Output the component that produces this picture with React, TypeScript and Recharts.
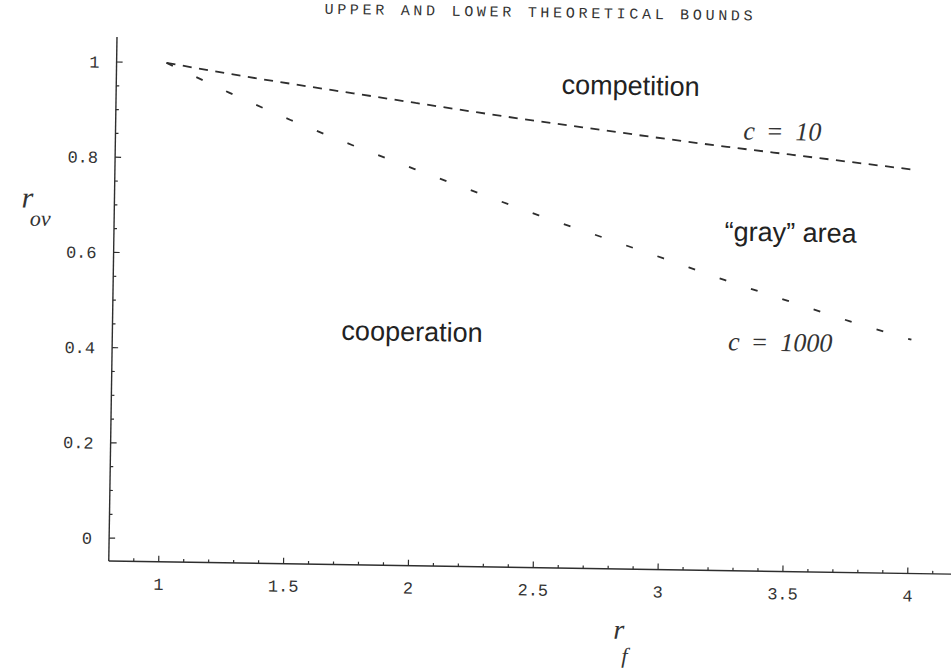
import React from 'react';
import { LineChart, Line, XAxis, YAxis, ReferenceDot } from 'recharts';

// r_f sample points and the two bound curves
const rf = [1, 1.25, 1.5, 1.75, 2, 2.25, 2.5, 2.75, 3, 3.25, 3.5, 3.75, 4];
const boundC10 = [1.0, 0.979, 0.96, 0.942, 0.924, 0.906, 0.889, 0.873, 0.857, 0.842, 0.828, 0.814, 0.8];
const boundC1000 = [1.0, 0.94, 0.884, 0.833, 0.785, 0.738, 0.692, 0.649, 0.606, 0.562, 0.521, 0.48, 0.443];

// axis ticks (minor + labelled majors)
const xTicks = [0.9, 1, 1.1, 1.2, 1.3, 1.4, 1.5, 1.6, 1.7, 1.8, 1.9, 2, 2.1, 2.2, 2.3, 2.4, 2.5, 2.6, 2.7, 2.8, 2.9, 3, 3.1, 3.2, 3.3, 3.4, 3.5, 3.6, 3.7, 3.8, 3.9, 4, 4.1, 4.2];
const xLabels = [1, 1.5, 2, 2.5, 3, 3.5, 4];
const yTicks = [0, 0.05, 0.1, 0.15, 0.2, 0.25, 0.3, 0.35, 0.4, 0.45, 0.5, 0.55, 0.6, 0.65, 0.7, 0.75, 0.8, 0.85, 0.9, 0.95, 1];
const yLabels = [0, 0.2, 0.4, 0.6, 0.8, 1];

const regionNames = ['competition', '\u201cgray\u201d area', 'cooperation'];
const regionAt = [
  { x: 2.86, y: 0.965 },
  { x: 3.51, y: 0.662 },
  { x: 2.0, y: 0.441 },
];
const curveValues = ['10', '1000'];
const curveAt = [
  { x: 3.47, y: 0.876 },
  { x: 3.475, y: 0.433 },
];

const data = rf.map((v, i) => ({ rf: v, c10: boundC10[i], c1000: boundC1000[i] }));

const ink = '#2e2e2e';
const mono = '"Liberation Mono", "DejaVu Sans Mono", monospace';
const serif = '"Liberation Serif", "DejaVu Serif", serif';
const sans = '"Liberation Sans", Arial, sans-serif';

const has = (list: number[], v: number) => list.some((l) => Math.abs(l - v) < 1e-6);

const BottomTick = (props: any) => {
  const { x, y, payload } = props;
  const major = has(xLabels, payload.value);
  return (
    <g>
      <line x1={x} x2={x} y1={y} y2={y - (major ? 6 : 3)} stroke={ink} strokeWidth={1.2} />
      {major && (
        <text x={x} y={y + 28} textAnchor="middle" fontFamily={mono} fontSize={17} fill="#333">
          {String(payload.value)}
        </text>
      )}
    </g>
  );
};

const TopTick = (props: any) => {
  const { x, y, payload } = props;
  const major = has(xLabels, payload.value);
  return <line x1={x} x2={x} y1={y} y2={y + (major ? 6 : 3)} stroke={ink} strokeWidth={1.2} />;
};

const LeftTick = (props: any) => {
  const { x, y, payload } = props;
  const major = has(yLabels, payload.value);
  return (
    <g>
      <line x1={x} x2={x + (major ? 6 : 3)} y1={y} y2={y} stroke={ink} strokeWidth={1.2} />
      {major && (
        <text x={x - 17} y={y + 6} textAnchor="end" fontFamily={mono} fontSize={17} fill="#333">
          {String(payload.value)}
        </text>
      )}
    </g>
  );
};

const RegionText = (text: string) => (p: any) => (
  <text x={p.cx} y={p.cy} dy="0.3em" textAnchor="middle" fontFamily={sans} fontSize={27} fill="#222">
    {text}
  </text>
);

const CurveText = (value: string) => (p: any) => (
  <text x={p.cx} y={p.cy} dy="0.33em" textAnchor="middle" fontFamily={serif} fontStyle="italic" fontSize={26} fill="#333">
    <tspan>c</tspan>
    <tspan dx={11}>=</tspan>
    <tspan dx={12}>{value}</tspan>
  </text>
);

export default function App() {
  return (
    <div style={{ position: 'absolute', left: 0, top: 0, width: 951, height: 668, overflow: 'hidden', background: '#fff' }}>
      <div
        style={{
          position: 'absolute',
          left: 0,
          top: 0,
          width: 1000,
          height: 668,
          transform: 'rotate(0.9deg)',
          transformOrigin: '117px 37px',
        }}
      >
        <LineChart width={1000} height={668} data={data} margin={{ top: 37, right: 23, bottom: 47, left: 57 }}>
          <XAxis
            type="number"
            dataKey="rf"
            domain={[0.8, 4.244]}
            allowDataOverflow
            ticks={xTicks}
            interval={0}
            tickLine={false}
            tickSize={0}
            tickMargin={0}
            height={60}
            axisLine={{ stroke: ink, strokeWidth: 1.4 }}
            tick={(p: any) => <BottomTick {...p} />}
          />
          <XAxis
            xAxisId="top"
            orientation="top"
            type="number"
            dataKey="rf"
            domain={[0.8, 4.244]}
            allowDataOverflow
            ticks={xTicks}
            interval={0}
            tickLine={false}
            tickSize={0}
            tickMargin={0}
            height={0}
            axisLine={{ stroke: ink, strokeWidth: 1.4 }}
            tick={(p: any) => <TopTick {...p} />}
          />
          <YAxis
            type="number"
            domain={[-0.048, 1.0525]}
            allowDataOverflow
            ticks={yTicks}
            interval={0}
            tickLine={false}
            tickSize={0}
            tickMargin={0}
            width={60}
            axisLine={{ stroke: ink, strokeWidth: 1.4 }}
            tick={(p: any) => <LeftTick {...p} />}
          />
          <Line
            type="monotone"
            dataKey="c10"
            stroke={ink}
            strokeWidth={1.8}
            strokeDasharray="9 7.5"
            dot={false}
            activeDot={false}
            isAnimationActive={false}
          />
          <Line
            type="monotone"
            dataKey="c1000"
            stroke={ink}
            strokeWidth={1.8}
            strokeDasharray="7 26"
            dot={false}
            activeDot={false}
            isAnimationActive={false}
          />
          {regionNames.map((name, i) => (
            <ReferenceDot key={name} x={regionAt[i].x} y={regionAt[i].y} r={0} shape={RegionText(name)} />
          ))}
          {curveValues.map((v, i) => (
            <ReferenceDot key={v} x={curveAt[i].x} y={curveAt[i].y} r={0} shape={CurveText(v)} />
          ))}
        </LineChart>

        <div
          style={{
            position: 'absolute',
            left: 540,
            top: 7,
            transform: 'translate(-50%, -50%)',
            fontFamily: mono,
            fontSize: 15,
            letterSpacing: 3.7,
            color: '#333',
            whiteSpace: 'pre',
          }}
        >
          UPPER AND LOWER THEORETICAL BOUNDS
        </div>

        <div style={{ position: 'absolute', left: 30, top: 199, transform: 'translate(-50%, -50%)', fontFamily: serif, fontStyle: 'italic', fontSize: 30, color: '#333', lineHeight: 1 }}>
          r
        </div>
        <div style={{ position: 'absolute', left: 43, top: 220, transform: 'translate(-50%, -50%)', fontFamily: serif, fontStyle: 'italic', fontSize: 22, color: '#333', lineHeight: 1 }}>
          ov
        </div>

        <div style={{ position: 'absolute', left: 628, top: 622, transform: 'translate(-50%, -50%)', fontFamily: serif, fontStyle: 'italic', fontSize: 28, color: '#333', lineHeight: 1 }}>
          r
        </div>
        <div style={{ position: 'absolute', left: 634, top: 648, transform: 'translate(-50%, -50%)', fontFamily: serif, fontStyle: 'italic', fontSize: 22, color: '#333', lineHeight: 1 }}>
          f
        </div>
      </div>
    </div>
  );
}
